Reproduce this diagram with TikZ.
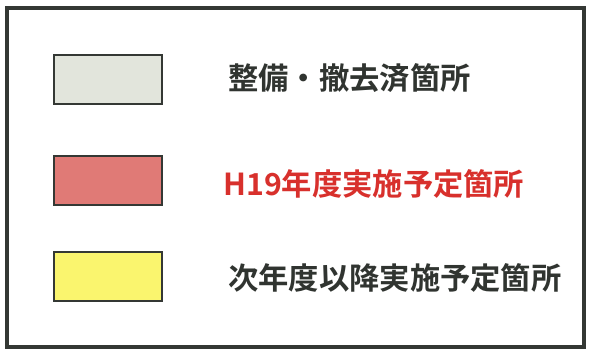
\documentclass[tikz,border=0pt]{standalone}
\usepackage{fontspec}
\newfontfamily\cjk{Noto Sans CJK JP Bold}
\definecolor{framec}{HTML}{343834}
\definecolor{grayfill}{HTML}{E2E5DC}
\definecolor{redfill}{HTML}{E07A76}
\definecolor{yelfill}{HTML}{FAF56E}
\definecolor{redtext}{HTML}{D8302C}
\definecolor{darktext}{HTML}{303430}
\begin{document}
\begin{tikzpicture}[x=1pt,y=-1pt,
  swatch/.style={draw=framec,line width=2pt,minimum width=108pt,minimum height=49pt,inner sep=0pt,anchor=north west},
  label/.style={anchor=west,inner sep=0pt,font=\cjk\fontsize{30.3}{31}\selectfont}]
\useasboundingbox (0,0) rectangle (589,349);
\fill[white] (0,0) rectangle (589,349);
\draw[framec,line width=4pt] (6.5,7.5) rectangle (584,347);
\node[swatch,fill=grayfill] (s1) at (53,54) {};
\node[swatch,fill=redfill] (s2) at (53,155) {};
\node[swatch,fill=yelfill] (s3) at (53,251) {};
\node[label,text=darktext] (t1) at (228,78) {整備・撤去済箇所};
\node[label,text=redtext] (t2) at (223,184) {H19年度実施予定箇所};
\node[label,text=darktext] (t3) at (228,278) {次年度以降実施予定箇所};
\end{tikzpicture}
\end{document}
